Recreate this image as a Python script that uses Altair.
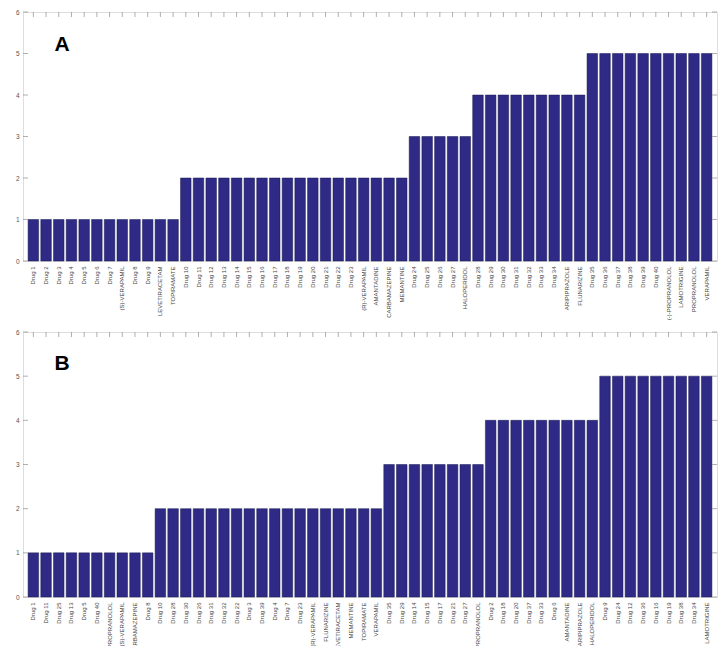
import altair as alt
import pandas as pd

# Panel A
a_labels = ["Drug 1", "Drug 2", "Drug 3", "Drug 4", "Drug 5", "Drug 6", "Drug 7",
            "(S)-VERAPAMIL", "Drug 8", "Drug 9", "LEVETIRACETAM", "TOPIRAMATE",
            "Drug 10", "Drug 11", "Drug 12", "Drug 13", "Drug 14", "Drug 15", "Drug 16",
            "Drug 17", "Drug 18", "Drug 19", "Drug 20", "Drug 21", "Drug 22", "Drug 23",
            "(R)-VERAPAMIL", "AMANTADINE", "CARBAMAZEPINE", "MEMANTINE",
            "Drug 24", "Drug 25", "Drug 26", "Drug 27", "HALOPERIDOL",
            "Drug 28", "Drug 29", "Drug 30", "Drug 31", "Drug 32", "Drug 33", "Drug 34",
            "ARIPIPRAZOLE", "FLUNARIZINE",
            "Drug 35", "Drug 36", "Drug 37", "Drug 38", "Drug 39", "Drug 40",
            "(-)-PROPRANOLOL", "LAMOTRIGINE", "PROPRANOLOL", "VERAPAMIL"]
a_values = [1] * 12 + [2] * 18 + [3] * 5 + [4] * 9 + [5] * 10

# Panel B
b_labels = ["Drug 1", "Drug 11", "Drug 25", "Drug 13", "Drug 5", "Drug 40",
            "(-)-PROPRANOLOL", "(S)-VERAPAMIL", "CARBAMAZEPINE", "Drug 8",
            "Drug 10", "Drug 28", "Drug 30", "Drug 26", "Drug 31", "Drug 32", "Drug 22",
            "Drug 3", "Drug 39", "Drug 4", "Drug 7", "Drug 23", "(R)-VERAPAMIL",
            "FLUNARIZINE", "LEVETIRACETAM", "MEMANTINE", "TOPIRAMATE", "VERAPAMIL",
            "Drug 35", "Drug 29", "Drug 14", "Drug 15", "Drug 17", "Drug 21", "Drug 27",
            "PROPRANOLOL",
            "Drug 2", "Drug 18", "Drug 20", "Drug 37", "Drug 33", "Drug 6",
            "AMANTADINE", "ARIPIPRAZOLE", "HALOPERIDOL",
            "Drug 9", "Drug 24", "Drug 12", "Drug 36", "Drug 16", "Drug 19", "Drug 38",
            "Drug 34", "LAMOTRIGINE"]
b_values = [1] * 10 + [2] * 18 + [3] * 8 + [4] * 9 + [5] * 9

y_ticks = [0, 1, 2, 3, 4, 5, 6]

W = 694
FONT = "Liberation Sans"
BAR = "#2E2A86"
FRAME = "#9a9a9a"


def panel(labels, values, letter, h, letter_y):
    df = pd.DataFrame({"label": labels, "value": values})
    ticks_df = pd.DataFrame({"t": y_ticks})
    xenc = alt.X("label:N", sort=None,
                 scale=alt.Scale(paddingInner=0.17, paddingOuter=0.4),
                 axis=alt.Axis(title=None, labelAngle=270, labelFontSize=6,
                               labelColor="#444", labelFont=FONT, ticks=False,
                               domain=False, labelPadding=5, labelLimit=200))
    yscale = alt.Scale(domain=[0, 6], nice=False)
    bars = alt.Chart(df).mark_bar(color=BAR, stroke="#1b1a50", strokeWidth=0.5).encode(
        x=xenc,
        y=alt.Y("value:Q", scale=yscale,
                axis=alt.Axis(title=None, values=y_ticks, format="d", grid=False,
                              domain=False, ticks=False, labelFontSize=6.5,
                              labelColor="#555", labelFont=FONT, labelPadding=4)),
    )
    top_ticks = alt.Chart(df).mark_rule(color=FRAME, strokeWidth=0.8).encode(
        x=alt.X("label:N", sort=None), y=alt.value(0), y2=alt.value(5))
    left_ticks = alt.Chart(ticks_df).mark_rule(color=FRAME, strokeWidth=0.8).encode(
        y=alt.Y("t:Q", scale=yscale), x=alt.value(0), x2=alt.value(5))
    right_ticks = alt.Chart(ticks_df).mark_rule(color=FRAME, strokeWidth=0.8).encode(
        y=alt.Y("t:Q", scale=yscale), x=alt.value(W - 5), x2=alt.value(W))
    txt = alt.Chart(pd.DataFrame({"l": [letter]})).mark_text(
        fontSize=21, fontWeight="bold", font=FONT, color="black").encode(
        text="l:N", x=alt.value(39), y=alt.value(letter_y))
    return alt.layer(bars, top_ticks, left_ticks, right_ticks, txt).properties(
        width=W, height=h)


chart = alt.vconcat(
    panel(a_labels, a_values, "A", 249, 33),
    panel(b_labels, b_values, "B", 265, 32),
    spacing=7,
).properties(
    padding={"left": 6, "top": 0, "right": 0, "bottom": 0}
).configure_view(stroke=FRAME, strokeWidth=1).configure(background="white")

chart.save("out.html", embed_options={"renderer": "svg", "actions": False})
